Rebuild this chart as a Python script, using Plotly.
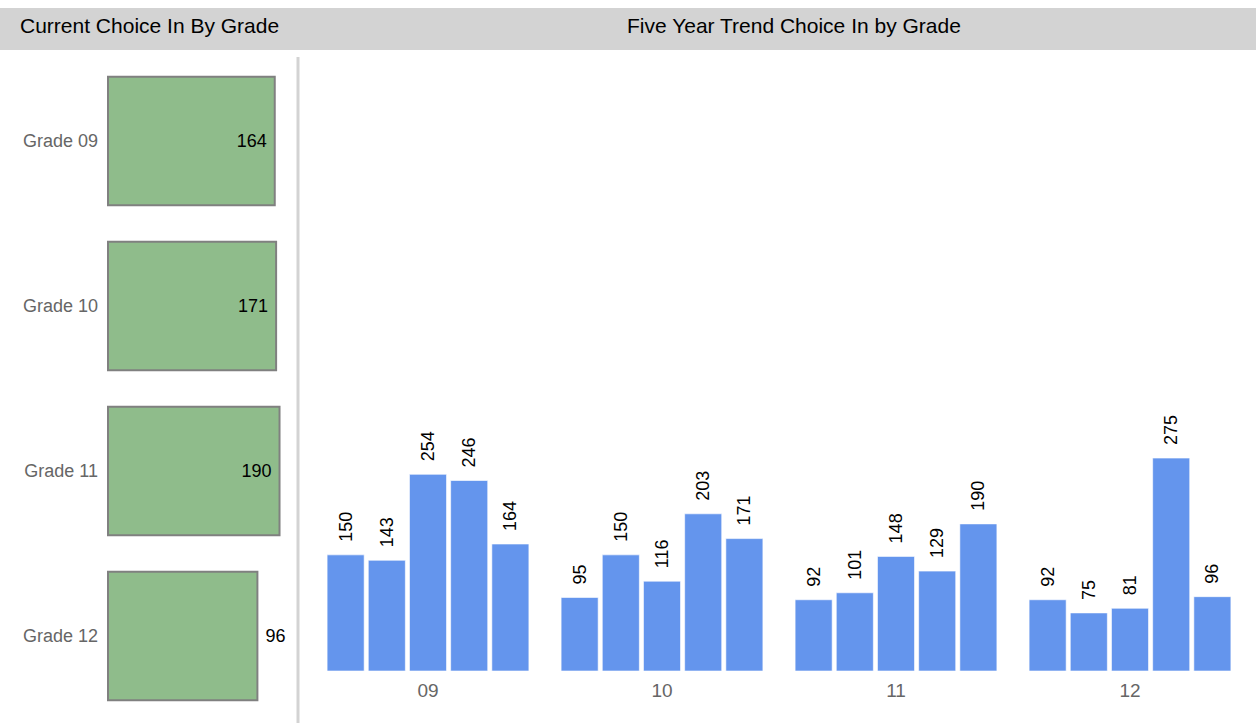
import plotly.graph_objects as go

# ---- data ----
grades = ["Grade 09", "Grade 10", "Grade 11", "Grade 12"]
current_values = [164, 171, 190, 96]

trend_groups = ["09", "10", "11", "12"]
trend_series = {
    "Year 1": [150, 95, 92, 92],
    "Year 2": [143, 150, 101, 75],
    "Year 3": [254, 116, 148, 81],
    "Year 4": [246, 203, 129, 275],
    "Year 5": [164, 171, 190, 96],
}

W, H = 1256, 723
FONT = "Liberation Sans, Arial, sans-serif"
NB = "\u00a0"

def px_x(p):
    return p / W

def px_y(p):
    return (H - p) / H

fig = go.Figure()

# left: current choice (log-scaled horizontal bars)
left_pos = ["inside", "inside", "inside", "outside"]
left_text = [(f"{v}{NB}" if pos == "inside" else f"{NB}{v}") for v, pos in zip(current_values, left_pos)]
fig.add_trace(go.Bar(
    x=current_values, y=grades, orientation="h", base=1,
    width=0.78,
    marker=dict(color="#8FBC8B", line=dict(color="#808080", width=2)),
    text=left_text, textposition=left_pos, insidetextanchor="end",
    textfont=dict(family=FONT, size=18, color="#000000"),
    constraintext="none", cliponaxis=False,
    xaxis="x", yaxis="y", showlegend=False, hoverinfo="skip",
))

# right: five year trend
blue = "#6495ED"
for name, vals in trend_series.items():
    fig.add_trace(go.Bar(
        x=trend_groups, y=vals, name=name,
        marker=dict(color=blue, line=dict(color="rgba(255,255,255,0.6)", width=1)),
        text=[f"{NB}{NB}{v}" for v in vals], textposition="outside", textangle=-90,
        textfont=dict(family=FONT, size=18, color="#000000"),
        constraintext="none", cliponaxis=False,
        xaxis="x2", yaxis="y2", showlegend=False, hoverinfo="skip",
    ))

fig.update_layout(
    width=W, height=H,
    margin=dict(l=0, r=0, t=0, b=0),
    paper_bgcolor="white", plot_bgcolor="white",
    font=dict(family=FONT),
    barmode="group", bargap=0.12, bargroupgap=0.1,
    xaxis=dict(type="log", domain=[px_x(104), px_x(296)], range=[-0.0532, 2.5],
               visible=False, showgrid=False, zeroline=False, fixedrange=True),
    yaxis=dict(domain=[px_y(718.5), px_y(58.5)], autorange="reversed", anchor="x",
               showgrid=False, zeroline=False, showline=False, ticks="",
               tickfont=dict(family=FONT, size=18, color="#666666"), ticklabelstandoff=5),
    xaxis2=dict(domain=[px_x(311), px_x(1247)], anchor="y2", type="category",
                showgrid=False, zeroline=False, showline=False, ticks="",
                tickfont=dict(family=FONT, size=19, color="#666666"), ticklabelstandoff=6),
    yaxis2=dict(domain=[px_y(671), px_y(58.5)], range=[0, 791], anchor="x2",
                visible=False, showgrid=False, zeroline=False),
    shapes=[
        dict(type="rect", xref="paper", yref="paper", x0=0, x1=1, y0=px_y(50), y1=px_y(8),
             fillcolor="#D3D3D3", line=dict(width=0), layer="below"),
        dict(type="line", xref="paper", yref="paper", x0=px_x(298), x1=px_x(298),
             y0=0, y1=px_y(57), line=dict(color="#D3D3D3", width=3)),
    ],
    annotations=[
        dict(text="Current Choice In By Grade", xref="paper", yref="paper",
             x=px_x(149), y=px_y(26), xanchor="center", yanchor="middle", showarrow=False,
             font=dict(family=FONT, size=21, color="#000000")),
        dict(text="Five Year Trend Choice In by Grade", xref="paper", yref="paper",
             x=px_x(794), y=px_y(26), xanchor="center", yanchor="middle", showarrow=False,
             font=dict(family=FONT, size=21, color="#000000")),
    ],
)

fig.write_html(
    "out.html",
    config={"displayModeBar": False, "staticPlot": True},
    post_script="document.body.style.margin='0';document.body.style.overflow='hidden';",
)
